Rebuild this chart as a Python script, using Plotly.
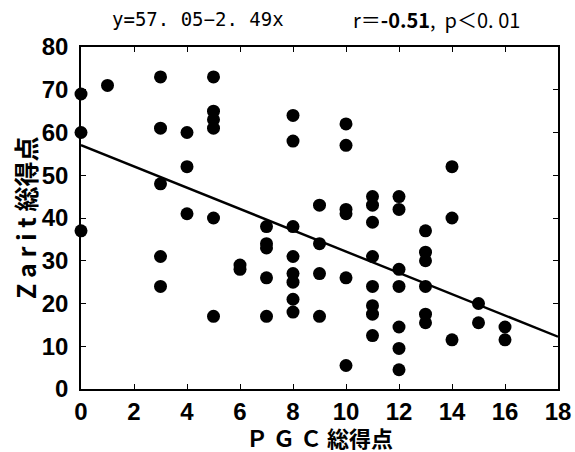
import plotly.graph_objects as go

pgc = [0, 0, 0, 1,
       3, 3, 3, 3, 3,
       4, 4, 4,
       5, 5, 5, 5, 5, 5,
       6, 6,
       7, 7, 7, 7, 7,
       8, 8, 8, 8, 8, 8, 8, 8,
       9, 9, 9, 9,
       10, 10, 10, 10, 10, 10,
       11, 11, 11, 11, 11, 11, 11, 11,
       12, 12, 12, 12, 12, 12, 12,
       13, 13, 13, 13, 13, 13,
       14, 14, 14,
       15, 15,
       16, 16]
zarit = [69, 60, 37, 71,
         73, 61, 48, 31, 24,
         60, 52, 41,
         73, 65, 63, 61, 40, 17,
         29, 28,
         38, 34, 33, 26, 17,
         64, 58, 38, 31, 27, 25, 21, 18,
         43, 34, 27, 17,
         62, 57, 42, 41, 26, 5.5,
         45, 43, 39, 31, 24, 19.5, 17.5, 12.5,
         45, 42, 28, 24, 14.5, 9.5, 4.5,
         37, 32, 30, 24, 17.5, 15.5,
         52, 40, 11.5,
         20, 15.5,
         14.5, 11.5]

intercept = 57.05
slope = -2.49
line_x = [0, 18]
line_y = [intercept + slope * v for v in line_x]

x_ticks = [0, 2, 4, 6, 8, 10, 12, 14, 16, 18]
y_ticks = [0, 10, 20, 30, 40, 50, 60, 70, 80]

fig = go.Figure()
fig.add_trace(go.Scatter(x=line_x, y=line_y, mode="lines",
                         line=dict(color="black", width=2.4),
                         showlegend=False))
fig.add_trace(go.Scatter(x=pgc, y=zarit, mode="markers",
                         marker=dict(color="black", size=13),
                         showlegend=False, cliponaxis=False))

tickfont = dict(family="Liberation Sans, Arial, sans-serif", size=24, color="black")

fig.update_layout(
    width=575, height=452,
    margin=dict(l=81, r=17, t=47, b=63),
    paper_bgcolor="white", plot_bgcolor="white",
    font=dict(family="Noto Sans CJK JP", color="black"),
    xaxis=dict(range=[0, 18], tickvals=x_ticks, ticktext=["<b>%d</b>" % v for v in x_ticks],
               showgrid=False, zeroline=False, showline=True, linecolor="black",
               linewidth=1.5, mirror="ticks", ticks="inside", ticklen=5,
               tickcolor="black", tickfont=tickfont, automargin=False),
    yaxis=dict(range=[0, 80], tickvals=y_ticks, ticktext=["<b>%d</b>" % v for v in y_ticks],
               showgrid=False, zeroline=False, showline=True, linecolor="black",
               linewidth=1.5, mirror="ticks", ticks="inside", ticklen=5,
               tickcolor="black", tickfont=tickfont, automargin=False,
               ticklabelstandoff=6),
    annotations=[
        dict(text="<b>Ｐ Ｇ Ｃ 総得点</b>", xref="paper", yref="paper", x=0.5, y=0,
             yanchor="middle", xanchor="center", showarrow=False, yshift=-48,
             font=dict(family="Noto Sans CJK JP", size=22, color="black")),
        dict(text="<b>Z a r i t 総得点</b>", xref="paper", yref="paper", x=0, y=0.5,
             yanchor="middle", xanchor="center", showarrow=False, xshift=-56,
             textangle=-90,
             font=dict(family="Noto Sans CJK JP", size=25, color="black")),
        dict(text="y=57. 05−2. 49x", xref="paper", yref="paper", x=0.245, y=1.0,
             yanchor="middle", xanchor="center", showarrow=False, yshift=28,
             font=dict(family="DejaVu Sans Mono", size=19, color="black")),
        dict(text="r＝<b>-0.51</b>,  p＜0. 01", xref="paper", yref="paper", x=0.745, y=1.0,
             yanchor="middle", xanchor="center", showarrow=False, yshift=28,
             font=dict(family="Noto Sans CJK JP", size=20, color="black")),
    ],
)

fig.write_html("out.html", config={"displayModeBar": False},
               post_script="document.body.style.margin='0px';document.body.style.overflow='hidden';")
